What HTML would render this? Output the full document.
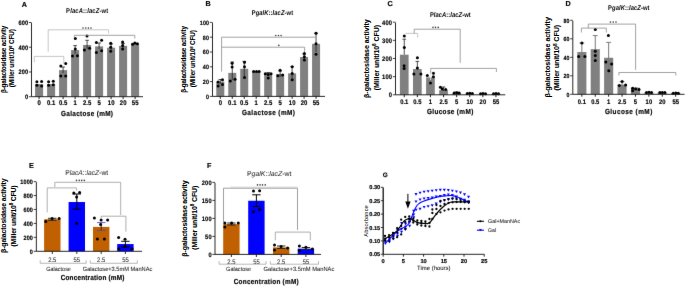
<!DOCTYPE html><html><head><meta charset="utf-8"><style>html,body{margin:0;padding:0;background:#fff;}body{position:relative;width:685px;height:286px;overflow:hidden;}svg{display:block;}svg.ov{position:absolute;left:0;top:0;}</style></head><body>
<svg xmlns="http://www.w3.org/2000/svg" width="685" height="286" viewBox="0 0 685 286" font-family='"Liberation Sans", sans-serif' text-rendering="geometricPrecision">
<defs><filter id="bl" color-interpolation-filters="sRGB" x="0" y="0" width="685" height="286" filterUnits="userSpaceOnUse"><feConvolveMatrix order="3" kernelMatrix="0.0036 0.0528 0.0036 0.0528 0.7744 0.0528 0.0036 0.0528 0.0036" edgeMode="duplicate"/></filter></defs>
<g filter="url(#bl)">
<rect width="685" height="286" fill="#fff"/>
<text x="0" y="0" transform="translate(24.30 6.60)" font-size="7.2" text-anchor="middle" font-weight="bold" fill="#000" stroke="#000" stroke-width="0.17">A</text>
<text x="0" y="0" transform="translate(87.10 12.60) scale(0.8600 1)" font-size="6.8" text-anchor="middle" font-weight="bold" textLength="48.84" lengthAdjust="spacing" fill="#000">P<tspan font-style="italic">lacA</tspan>::<tspan font-style="italic">lacZ</tspan>-wt</text>
<rect x="35.10" y="84.09" width="8.00" height="12.61" fill="#808080"/>
<rect x="47.10" y="84.09" width="8.00" height="12.61" fill="#808080"/>
<rect x="59.10" y="70.11" width="8.00" height="26.59" fill="#808080"/>
<rect x="71.10" y="50.08" width="8.00" height="46.62" fill="#808080"/>
<rect x="83.10" y="45.01" width="8.00" height="51.69" fill="#808080"/>
<rect x="95.10" y="46.37" width="8.00" height="50.33" fill="#808080"/>
<rect x="107.10" y="47.73" width="8.00" height="48.97" fill="#808080"/>
<rect x="119.10" y="45.87" width="8.00" height="50.83" fill="#808080"/>
<rect x="131.10" y="43.52" width="8.00" height="53.18" fill="#808080"/>
<line x1="63.10" y1="67.00" x2="63.10" y2="73.00" stroke="#222" stroke-width="0.8"/>
<line x1="61.30" y1="67.00" x2="64.90" y2="67.00" stroke="#222" stroke-width="0.8"/>
<line x1="75.10" y1="45.60" x2="75.10" y2="54.00" stroke="#222" stroke-width="0.8"/>
<line x1="73.30" y1="45.60" x2="76.90" y2="45.60" stroke="#222" stroke-width="0.8"/>
<line x1="87.10" y1="40.30" x2="87.10" y2="49.00" stroke="#222" stroke-width="0.8"/>
<line x1="85.30" y1="40.30" x2="88.90" y2="40.30" stroke="#222" stroke-width="0.8"/>
<line x1="99.10" y1="43.00" x2="99.10" y2="49.00" stroke="#222" stroke-width="0.8"/>
<line x1="97.30" y1="43.00" x2="100.90" y2="43.00" stroke="#222" stroke-width="0.8"/>
<line x1="111.10" y1="44.00" x2="111.10" y2="50.00" stroke="#222" stroke-width="0.8"/>
<line x1="109.30" y1="44.00" x2="112.90" y2="44.00" stroke="#222" stroke-width="0.8"/>
<line x1="123.10" y1="43.50" x2="123.10" y2="48.00" stroke="#222" stroke-width="0.8"/>
<line x1="121.30" y1="43.50" x2="124.90" y2="43.50" stroke="#222" stroke-width="0.8"/>
<circle cx="36.90" cy="81.80" r="1.5" fill="#000"/>
<circle cx="41.60" cy="81.50" r="1.5" fill="#000"/>
<circle cx="36.90" cy="85.30" r="1.5" fill="#000"/>
<circle cx="41.60" cy="85.90" r="1.5" fill="#000"/>
<circle cx="48.60" cy="81.80" r="1.5" fill="#000"/>
<circle cx="53.30" cy="81.30" r="1.5" fill="#000"/>
<circle cx="48.60" cy="85.30" r="1.5" fill="#000"/>
<circle cx="53.30" cy="84.80" r="1.5" fill="#000"/>
<circle cx="60.80" cy="66.10" r="1.5" fill="#000"/>
<circle cx="65.70" cy="63.50" r="1.5" fill="#000"/>
<circle cx="60.80" cy="76.10" r="1.5" fill="#000"/>
<circle cx="65.70" cy="76.10" r="1.5" fill="#000"/>
<circle cx="75.30" cy="38.60" r="1.5" fill="#000"/>
<circle cx="72.50" cy="56.00" r="1.5" fill="#000"/>
<circle cx="77.40" cy="55.70" r="1.5" fill="#000"/>
<circle cx="75.30" cy="49.00" r="1.5" fill="#000"/>
<circle cx="87.00" cy="36.00" r="1.5" fill="#000"/>
<circle cx="84.40" cy="50.00" r="1.5" fill="#000"/>
<circle cx="89.60" cy="48.20" r="1.5" fill="#000"/>
<circle cx="96.40" cy="42.60" r="1.5" fill="#000"/>
<circle cx="101.60" cy="40.30" r="1.5" fill="#000"/>
<circle cx="96.40" cy="52.60" r="1.5" fill="#000"/>
<circle cx="101.60" cy="50.80" r="1.5" fill="#000"/>
<circle cx="110.70" cy="43.30" r="1.5" fill="#000"/>
<circle cx="110.70" cy="47.30" r="1.5" fill="#000"/>
<circle cx="110.70" cy="51.30" r="1.5" fill="#000"/>
<circle cx="122.60" cy="42.10" r="1.5" fill="#000"/>
<circle cx="122.60" cy="45.60" r="1.5" fill="#000"/>
<circle cx="122.60" cy="49.10" r="1.5" fill="#000"/>
<circle cx="132.60" cy="44.30" r="1.5" fill="#000"/>
<circle cx="134.80" cy="43.00" r="1.5" fill="#000"/>
<circle cx="137.30" cy="43.80" r="1.5" fill="#000"/>
<line x1="31.50" y1="22.95" x2="31.50" y2="96.70" stroke="#111" stroke-width="0.9"/>
<line x1="28.90" y1="96.70" x2="31.50" y2="96.70" stroke="#111" stroke-width="0.8"/>
<text x="0" y="0" transform="translate(28.10 99.15) scale(0.8800 1)" font-size="6.38" text-anchor="end" font-weight="bold" textLength="3.66" lengthAdjust="spacing" fill="#000" stroke="#000" stroke-width="0.17">0</text>
<line x1="28.90" y1="71.97" x2="31.50" y2="71.97" stroke="#111" stroke-width="0.8"/>
<text x="0" y="0" transform="translate(28.10 74.41) scale(0.8800 1)" font-size="6.38" text-anchor="end" font-weight="bold" textLength="10.99" lengthAdjust="spacing" fill="#000" stroke="#000" stroke-width="0.17">200</text>
<line x1="28.90" y1="47.23" x2="31.50" y2="47.23" stroke="#111" stroke-width="0.8"/>
<text x="0" y="0" transform="translate(28.10 49.68) scale(0.8800 1)" font-size="6.38" text-anchor="end" font-weight="bold" textLength="10.99" lengthAdjust="spacing" fill="#000" stroke="#000" stroke-width="0.17">400</text>
<line x1="28.90" y1="22.50" x2="31.50" y2="22.50" stroke="#111" stroke-width="0.8"/>
<text x="0" y="0" transform="translate(28.10 24.95) scale(0.8800 1)" font-size="6.38" text-anchor="end" font-weight="bold" textLength="10.99" lengthAdjust="spacing" fill="#000" stroke="#000" stroke-width="0.17">600</text>
<line x1="31.50" y1="96.70" x2="143.00" y2="96.70" stroke="#111" stroke-width="0.9"/>
<line x1="39.10" y1="96.70" x2="39.10" y2="99.10" stroke="#111" stroke-width="0.95"/>
<text x="0" y="0" transform="translate(39.10 105.20) scale(0.8800 1)" font-size="6.72" text-anchor="middle" font-weight="bold" textLength="3.80" lengthAdjust="spacing" fill="#000" stroke="#000" stroke-width="0.17">0</text>
<line x1="51.10" y1="96.70" x2="51.10" y2="99.10" stroke="#111" stroke-width="0.95"/>
<text x="0" y="0" transform="translate(51.10 105.20) scale(0.8800 1)" font-size="6.72" text-anchor="middle" font-weight="bold" textLength="9.48" lengthAdjust="spacing" fill="#000" stroke="#000" stroke-width="0.17">0.1</text>
<line x1="63.10" y1="96.70" x2="63.10" y2="99.10" stroke="#111" stroke-width="0.95"/>
<text x="0" y="0" transform="translate(63.10 105.20) scale(0.8800 1)" font-size="6.72" text-anchor="middle" font-weight="bold" textLength="9.48" lengthAdjust="spacing" fill="#000" stroke="#000" stroke-width="0.17">0.5</text>
<line x1="75.10" y1="96.70" x2="75.10" y2="99.10" stroke="#111" stroke-width="0.95"/>
<text x="0" y="0" transform="translate(75.10 105.20) scale(0.8800 1)" font-size="6.72" text-anchor="middle" font-weight="bold" textLength="3.80" lengthAdjust="spacing" fill="#000" stroke="#000" stroke-width="0.17">1</text>
<line x1="87.10" y1="96.70" x2="87.10" y2="99.10" stroke="#111" stroke-width="0.95"/>
<text x="0" y="0" transform="translate(87.10 105.20) scale(0.8800 1)" font-size="6.72" text-anchor="middle" font-weight="bold" textLength="9.48" lengthAdjust="spacing" fill="#000" stroke="#000" stroke-width="0.17">2.5</text>
<line x1="99.10" y1="96.70" x2="99.10" y2="99.10" stroke="#111" stroke-width="0.95"/>
<text x="0" y="0" transform="translate(99.10 105.20) scale(0.8800 1)" font-size="6.72" text-anchor="middle" font-weight="bold" textLength="3.80" lengthAdjust="spacing" fill="#000" stroke="#000" stroke-width="0.17">5</text>
<line x1="111.10" y1="96.70" x2="111.10" y2="99.10" stroke="#111" stroke-width="0.95"/>
<text x="0" y="0" transform="translate(111.10 105.20) scale(0.8800 1)" font-size="6.72" text-anchor="middle" font-weight="bold" textLength="7.58" lengthAdjust="spacing" fill="#000" stroke="#000" stroke-width="0.17">10</text>
<line x1="123.10" y1="96.70" x2="123.10" y2="99.10" stroke="#111" stroke-width="0.95"/>
<text x="0" y="0" transform="translate(123.10 105.20) scale(0.8800 1)" font-size="6.72" text-anchor="middle" font-weight="bold" textLength="7.58" lengthAdjust="spacing" fill="#000" stroke="#000" stroke-width="0.17">20</text>
<line x1="135.10" y1="96.70" x2="135.10" y2="99.10" stroke="#111" stroke-width="0.95"/>
<text x="0" y="0" transform="translate(135.10 105.20) scale(0.8800 1)" font-size="6.72" text-anchor="middle" font-weight="bold" textLength="7.58" lengthAdjust="spacing" fill="#000" stroke="#000" stroke-width="0.17">55</text>
<text x="0" y="0" transform="translate(87.00 115.50) scale(0.8800 1)" font-size="7.3" text-anchor="middle" font-weight="bold" textLength="59.09" lengthAdjust="spacing" fill="#000" stroke="#000" stroke-width="0.17">Galactose (mM)</text>
<polyline points="34.30,62.20 34.30,56.40 63.80,56.40 63.80,64.30" stroke="#b8b8b8" stroke-width="0.8" fill="none"/>
<polyline points="48.20,51.70 48.20,29.80 108.60,29.80 108.60,33.30" stroke="#b8b8b8" stroke-width="0.8" fill="none"/>
<polyline points="74.30,36.80 74.30,35.30 134.80,35.30 134.80,38.60" stroke="#8c8c8c" stroke-width="0.8" fill="none"/>
<ellipse cx="83.00" cy="28.10" rx="0.78" ry="0.82" fill="#3a3a3a"/>
<ellipse cx="85.80" cy="28.10" rx="0.78" ry="0.82" fill="#3a3a3a"/>
<ellipse cx="88.40" cy="28.10" rx="0.78" ry="0.82" fill="#3a3a3a"/>
<ellipse cx="91.00" cy="28.10" rx="0.78" ry="0.82" fill="#3a3a3a"/>
<text x="0" y="0" transform="translate(208.20 6.20)" font-size="7.2" text-anchor="middle" font-weight="bold" fill="#000" stroke="#000" stroke-width="0.17">B</text>
<text x="0" y="0" transform="translate(272.40 14.60) scale(0.8600 1)" font-size="6.8" text-anchor="middle" font-weight="bold" textLength="48.26" lengthAdjust="spacing" fill="#000">P<tspan font-style="italic">galK</tspan>::<tspan font-style="italic">lacZ</tspan>-wt</text>
<rect x="216.30" y="81.60" width="8.00" height="14.80" fill="#808080"/>
<rect x="228.27" y="72.87" width="8.00" height="23.53" fill="#808080"/>
<rect x="240.24" y="68.80" width="8.00" height="27.60" fill="#808080"/>
<rect x="252.21" y="71.09" width="8.00" height="25.31" fill="#808080"/>
<rect x="264.18" y="73.16" width="8.00" height="23.24" fill="#808080"/>
<rect x="276.15" y="74.13" width="8.00" height="22.27" fill="#808080"/>
<rect x="288.12" y="73.39" width="8.00" height="23.01" fill="#808080"/>
<rect x="300.09" y="57.03" width="8.00" height="39.37" fill="#808080"/>
<rect x="312.06" y="43.86" width="8.00" height="52.54" fill="#808080"/>
<line x1="220.30" y1="79.50" x2="220.30" y2="84.00" stroke="#222" stroke-width="0.8"/>
<line x1="218.50" y1="79.50" x2="222.10" y2="79.50" stroke="#222" stroke-width="0.8"/>
<line x1="232.27" y1="62.00" x2="232.27" y2="80.00" stroke="#222" stroke-width="0.8"/>
<line x1="230.47" y1="62.00" x2="234.07" y2="62.00" stroke="#222" stroke-width="0.8"/>
<line x1="244.24" y1="61.40" x2="244.24" y2="77.00" stroke="#222" stroke-width="0.8"/>
<line x1="242.44" y1="61.40" x2="246.04" y2="61.40" stroke="#222" stroke-width="0.8"/>
<line x1="268.18" y1="72.50" x2="268.18" y2="75.50" stroke="#222" stroke-width="0.8"/>
<line x1="266.38" y1="72.50" x2="269.98" y2="72.50" stroke="#222" stroke-width="0.8"/>
<line x1="280.15" y1="71.00" x2="280.15" y2="77.00" stroke="#222" stroke-width="0.8"/>
<line x1="278.35" y1="71.00" x2="281.95" y2="71.00" stroke="#222" stroke-width="0.8"/>
<line x1="292.12" y1="66.60" x2="292.12" y2="78.00" stroke="#222" stroke-width="0.8"/>
<line x1="290.32" y1="66.60" x2="293.92" y2="66.60" stroke="#222" stroke-width="0.8"/>
<line x1="304.09" y1="54.00" x2="304.09" y2="59.00" stroke="#222" stroke-width="0.8"/>
<line x1="302.29" y1="54.00" x2="305.89" y2="54.00" stroke="#222" stroke-width="0.8"/>
<line x1="316.06" y1="33.20" x2="316.06" y2="52.00" stroke="#222" stroke-width="0.8"/>
<line x1="314.26" y1="33.20" x2="317.86" y2="33.20" stroke="#222" stroke-width="0.8"/>
<circle cx="218.10" cy="81.90" r="1.5" fill="#000"/>
<circle cx="222.50" cy="79.80" r="1.5" fill="#000"/>
<circle cx="218.10" cy="86.00" r="1.5" fill="#000"/>
<circle cx="222.50" cy="84.60" r="1.5" fill="#000"/>
<circle cx="232.10" cy="63.20" r="1.5" fill="#000"/>
<circle cx="232.10" cy="67.00" r="1.5" fill="#000"/>
<circle cx="230.30" cy="81.10" r="1.5" fill="#000"/>
<circle cx="235.00" cy="79.30" r="1.5" fill="#000"/>
<circle cx="244.50" cy="62.30" r="1.5" fill="#000"/>
<circle cx="244.50" cy="66.70" r="1.5" fill="#000"/>
<circle cx="244.50" cy="77.50" r="1.5" fill="#000"/>
<circle cx="253.60" cy="71.60" r="1.5" fill="#000"/>
<circle cx="256.50" cy="71.60" r="1.5" fill="#000"/>
<circle cx="259.10" cy="71.60" r="1.5" fill="#000"/>
<circle cx="265.30" cy="73.70" r="1.5" fill="#000"/>
<circle cx="268.20" cy="74.60" r="1.5" fill="#000"/>
<circle cx="271.00" cy="73.70" r="1.5" fill="#000"/>
<circle cx="268.20" cy="78.10" r="1.5" fill="#000"/>
<circle cx="280.10" cy="70.20" r="1.5" fill="#000"/>
<circle cx="277.90" cy="75.80" r="1.5" fill="#000"/>
<circle cx="282.60" cy="75.10" r="1.5" fill="#000"/>
<circle cx="292.20" cy="66.70" r="1.5" fill="#000"/>
<circle cx="292.20" cy="73.40" r="1.5" fill="#000"/>
<circle cx="292.20" cy="79.80" r="1.5" fill="#000"/>
<circle cx="304.40" cy="53.50" r="1.5" fill="#000"/>
<circle cx="304.40" cy="56.80" r="1.5" fill="#000"/>
<circle cx="304.40" cy="60.00" r="1.5" fill="#000"/>
<circle cx="316.00" cy="33.20" r="1.5" fill="#000"/>
<circle cx="316.00" cy="43.70" r="1.5" fill="#000"/>
<circle cx="316.00" cy="54.20" r="1.5" fill="#000"/>
<line x1="212.50" y1="22.85" x2="212.50" y2="96.40" stroke="#111" stroke-width="0.9"/>
<line x1="209.90" y1="96.40" x2="212.50" y2="96.40" stroke="#111" stroke-width="0.8"/>
<text x="0" y="0" transform="translate(209.10 98.77) scale(0.8800 1)" font-size="6.16" text-anchor="end" font-weight="bold" textLength="3.53" lengthAdjust="spacing" fill="#000" stroke="#000" stroke-width="0.17">0</text>
<line x1="209.90" y1="81.60" x2="212.50" y2="81.60" stroke="#111" stroke-width="0.8"/>
<text x="0" y="0" transform="translate(209.10 83.97) scale(0.8800 1)" font-size="6.16" text-anchor="end" font-weight="bold" textLength="7.08" lengthAdjust="spacing" fill="#000" stroke="#000" stroke-width="0.17">20</text>
<line x1="209.90" y1="66.80" x2="212.50" y2="66.80" stroke="#111" stroke-width="0.8"/>
<text x="0" y="0" transform="translate(209.10 69.17) scale(0.8800 1)" font-size="6.16" text-anchor="end" font-weight="bold" textLength="7.08" lengthAdjust="spacing" fill="#000" stroke="#000" stroke-width="0.17">40</text>
<line x1="209.90" y1="52.00" x2="212.50" y2="52.00" stroke="#111" stroke-width="0.8"/>
<text x="0" y="0" transform="translate(209.10 54.37) scale(0.8800 1)" font-size="6.16" text-anchor="end" font-weight="bold" textLength="7.08" lengthAdjust="spacing" fill="#000" stroke="#000" stroke-width="0.17">60</text>
<line x1="209.90" y1="37.20" x2="212.50" y2="37.20" stroke="#111" stroke-width="0.8"/>
<text x="0" y="0" transform="translate(209.10 39.57) scale(0.8800 1)" font-size="6.16" text-anchor="end" font-weight="bold" textLength="7.08" lengthAdjust="spacing" fill="#000" stroke="#000" stroke-width="0.17">80</text>
<line x1="209.90" y1="22.40" x2="212.50" y2="22.40" stroke="#111" stroke-width="0.8"/>
<text x="0" y="0" transform="translate(209.10 24.77) scale(0.8800 1)" font-size="6.16" text-anchor="end" font-weight="bold" textLength="10.61" lengthAdjust="spacing" fill="#000" stroke="#000" stroke-width="0.17">100</text>
<line x1="212.50" y1="96.40" x2="325.00" y2="96.40" stroke="#111" stroke-width="0.9"/>
<line x1="220.30" y1="96.40" x2="220.30" y2="98.80" stroke="#111" stroke-width="0.95"/>
<text x="0" y="0" transform="translate(220.30 105.20) scale(0.8800 1)" font-size="6.72" text-anchor="middle" font-weight="bold" textLength="3.80" lengthAdjust="spacing" fill="#000" stroke="#000" stroke-width="0.17">0</text>
<line x1="232.27" y1="96.40" x2="232.27" y2="98.80" stroke="#111" stroke-width="0.95"/>
<text x="0" y="0" transform="translate(232.27 105.20) scale(0.8800 1)" font-size="6.72" text-anchor="middle" font-weight="bold" textLength="9.48" lengthAdjust="spacing" fill="#000" stroke="#000" stroke-width="0.17">0.1</text>
<line x1="244.24" y1="96.40" x2="244.24" y2="98.80" stroke="#111" stroke-width="0.95"/>
<text x="0" y="0" transform="translate(244.24 105.20) scale(0.8800 1)" font-size="6.72" text-anchor="middle" font-weight="bold" textLength="9.48" lengthAdjust="spacing" fill="#000" stroke="#000" stroke-width="0.17">0.5</text>
<line x1="256.21" y1="96.40" x2="256.21" y2="98.80" stroke="#111" stroke-width="0.95"/>
<text x="0" y="0" transform="translate(256.21 105.20) scale(0.8800 1)" font-size="6.72" text-anchor="middle" font-weight="bold" textLength="3.80" lengthAdjust="spacing" fill="#000" stroke="#000" stroke-width="0.17">1</text>
<line x1="268.18" y1="96.40" x2="268.18" y2="98.80" stroke="#111" stroke-width="0.95"/>
<text x="0" y="0" transform="translate(268.18 105.20) scale(0.8800 1)" font-size="6.72" text-anchor="middle" font-weight="bold" textLength="9.48" lengthAdjust="spacing" fill="#000" stroke="#000" stroke-width="0.17">2.5</text>
<line x1="280.15" y1="96.40" x2="280.15" y2="98.80" stroke="#111" stroke-width="0.95"/>
<text x="0" y="0" transform="translate(280.15 105.20) scale(0.8800 1)" font-size="6.72" text-anchor="middle" font-weight="bold" textLength="3.80" lengthAdjust="spacing" fill="#000" stroke="#000" stroke-width="0.17">5</text>
<line x1="292.12" y1="96.40" x2="292.12" y2="98.80" stroke="#111" stroke-width="0.95"/>
<text x="0" y="0" transform="translate(292.12 105.20) scale(0.8800 1)" font-size="6.72" text-anchor="middle" font-weight="bold" textLength="7.58" lengthAdjust="spacing" fill="#000" stroke="#000" stroke-width="0.17">10</text>
<line x1="304.09" y1="96.40" x2="304.09" y2="98.80" stroke="#111" stroke-width="0.95"/>
<text x="0" y="0" transform="translate(304.09 105.20) scale(0.8800 1)" font-size="6.72" text-anchor="middle" font-weight="bold" textLength="7.58" lengthAdjust="spacing" fill="#000" stroke="#000" stroke-width="0.17">20</text>
<line x1="316.06" y1="96.40" x2="316.06" y2="98.80" stroke="#111" stroke-width="0.95"/>
<text x="0" y="0" transform="translate(316.06 105.20) scale(0.8800 1)" font-size="6.72" text-anchor="middle" font-weight="bold" textLength="7.58" lengthAdjust="spacing" fill="#000" stroke="#000" stroke-width="0.17">55</text>
<text x="0" y="0" transform="translate(268.40 115.30) scale(0.8800 1)" font-size="7.3" text-anchor="middle" font-weight="bold" textLength="60.23" lengthAdjust="spacing" fill="#000" stroke="#000" stroke-width="0.17">Galactose (mM)</text>
<polyline points="221.60,71.60 221.60,37.20 315.80,37.20" stroke="#8c8c8c" stroke-width="0.8" fill="none"/>
<polyline points="221.60,47.20 304.60,47.20 304.60,52.00" stroke="#8c8c8c" stroke-width="0.8" fill="none"/>
<ellipse cx="275.70" cy="35.50" rx="0.78" ry="0.82" fill="#3a3a3a"/>
<ellipse cx="278.50" cy="35.50" rx="0.78" ry="0.82" fill="#3a3a3a"/>
<ellipse cx="281.10" cy="35.50" rx="0.78" ry="0.82" fill="#3a3a3a"/>
<ellipse cx="278.80" cy="45.40" rx="0.78" ry="0.82" fill="#3a3a3a"/>
<text x="0" y="0" transform="translate(390.00 6.00)" font-size="7.2" text-anchor="middle" font-weight="bold" fill="#000" stroke="#000" stroke-width="0.17">C</text>
<text x="0" y="0" transform="translate(450.30 16.60) scale(0.8600 1)" font-size="6.8" text-anchor="middle" font-weight="bold" textLength="47.44" lengthAdjust="spacing" fill="#000">P<tspan font-style="italic">lacA</tspan>::<tspan font-style="italic">lacZ</tspan>-wt</text>
<rect x="399.90" y="54.69" width="8.70" height="40.11" fill="#808080"/>
<rect x="413.00" y="69.03" width="8.70" height="25.77" fill="#808080"/>
<rect x="426.10" y="77.38" width="8.70" height="17.42" fill="#808080"/>
<rect x="439.20" y="90.08" width="8.70" height="4.72" fill="#808080"/>
<rect x="452.30" y="93.17" width="8.70" height="1.63" fill="#808080"/>
<rect x="465.40" y="93.89" width="8.70" height="0.91" fill="#808080"/>
<rect x="478.50" y="94.26" width="8.70" height="0.54" fill="#808080"/>
<rect x="491.60" y="94.26" width="8.70" height="0.54" fill="#808080"/>
<line x1="404.25" y1="39.20" x2="404.25" y2="54.60" stroke="#222" stroke-width="0.8"/>
<line x1="402.45" y1="39.20" x2="406.05" y2="39.20" stroke="#222" stroke-width="0.8"/>
<line x1="417.35" y1="61.40" x2="417.35" y2="69.00" stroke="#222" stroke-width="0.8"/>
<line x1="415.55" y1="61.40" x2="419.15" y2="61.40" stroke="#222" stroke-width="0.8"/>
<line x1="443.55" y1="87.00" x2="443.55" y2="91.00" stroke="#222" stroke-width="0.8"/>
<line x1="441.75" y1="87.00" x2="445.35" y2="87.00" stroke="#222" stroke-width="0.8"/>
<line x1="456.65" y1="92.00" x2="456.65" y2="93.50" stroke="#222" stroke-width="0.8"/>
<line x1="454.85" y1="92.00" x2="458.45" y2="92.00" stroke="#222" stroke-width="0.8"/>
<circle cx="404.30" cy="36.10" r="1.5" fill="#000"/>
<circle cx="404.30" cy="47.40" r="1.5" fill="#000"/>
<circle cx="404.10" cy="65.80" r="1.5" fill="#000"/>
<circle cx="404.10" cy="68.60" r="1.5" fill="#000"/>
<circle cx="417.40" cy="57.80" r="1.5" fill="#000"/>
<circle cx="413.90" cy="73.90" r="1.5" fill="#000"/>
<circle cx="417.40" cy="68.10" r="1.5" fill="#000"/>
<circle cx="420.90" cy="73.90" r="1.5" fill="#000"/>
<circle cx="427.30" cy="75.60" r="1.5" fill="#000"/>
<circle cx="433.40" cy="73.30" r="1.5" fill="#000"/>
<circle cx="433.40" cy="76.80" r="1.5" fill="#000"/>
<circle cx="430.50" cy="83.00" r="1.5" fill="#000"/>
<circle cx="440.40" cy="87.30" r="1.5" fill="#000"/>
<circle cx="442.20" cy="89.10" r="1.5" fill="#000"/>
<circle cx="445.70" cy="89.40" r="1.5" fill="#000"/>
<circle cx="454.20" cy="92.90" r="1.5" fill="#000"/>
<circle cx="456.70" cy="92.70" r="1.5" fill="#000"/>
<circle cx="459.20" cy="92.90" r="1.5" fill="#000"/>
<circle cx="467.30" cy="93.60" r="1.5" fill="#000"/>
<circle cx="469.80" cy="93.20" r="1.5" fill="#000"/>
<circle cx="472.30" cy="93.40" r="1.5" fill="#000"/>
<circle cx="480.60" cy="93.80" r="1.5" fill="#000"/>
<circle cx="483.00" cy="93.60" r="1.5" fill="#000"/>
<circle cx="485.50" cy="93.80" r="1.5" fill="#000"/>
<circle cx="493.50" cy="93.80" r="1.5" fill="#000"/>
<circle cx="496.00" cy="93.60" r="1.5" fill="#000"/>
<circle cx="498.50" cy="93.80" r="1.5" fill="#000"/>
<line x1="395.50" y1="22.65" x2="395.50" y2="94.80" stroke="#111" stroke-width="0.9"/>
<line x1="392.90" y1="94.80" x2="395.50" y2="94.80" stroke="#111" stroke-width="0.8"/>
<text x="0" y="0" transform="translate(392.10 97.33) scale(0.8800 1)" font-size="6.6" text-anchor="end" font-weight="bold" textLength="3.80" lengthAdjust="spacing" fill="#000" stroke="#000" stroke-width="0.17">0</text>
<line x1="392.90" y1="76.65" x2="395.50" y2="76.65" stroke="#111" stroke-width="0.8"/>
<text x="0" y="0" transform="translate(392.10 79.18) scale(0.8800 1)" font-size="6.6" text-anchor="end" font-weight="bold" textLength="11.38" lengthAdjust="spacing" fill="#000" stroke="#000" stroke-width="0.17">100</text>
<line x1="392.90" y1="58.50" x2="395.50" y2="58.50" stroke="#111" stroke-width="0.8"/>
<text x="0" y="0" transform="translate(392.10 61.03) scale(0.8800 1)" font-size="6.6" text-anchor="end" font-weight="bold" textLength="11.38" lengthAdjust="spacing" fill="#000" stroke="#000" stroke-width="0.17">200</text>
<line x1="392.90" y1="40.35" x2="395.50" y2="40.35" stroke="#111" stroke-width="0.8"/>
<text x="0" y="0" transform="translate(392.10 42.88) scale(0.8800 1)" font-size="6.6" text-anchor="end" font-weight="bold" textLength="11.38" lengthAdjust="spacing" fill="#000" stroke="#000" stroke-width="0.17">300</text>
<line x1="392.90" y1="22.20" x2="395.50" y2="22.20" stroke="#111" stroke-width="0.8"/>
<text x="0" y="0" transform="translate(392.10 24.73) scale(0.8800 1)" font-size="6.6" text-anchor="end" font-weight="bold" textLength="11.38" lengthAdjust="spacing" fill="#000" stroke="#000" stroke-width="0.17">400</text>
<line x1="395.50" y1="94.80" x2="505.30" y2="94.80" stroke="#111" stroke-width="0.9"/>
<line x1="404.25" y1="94.80" x2="404.25" y2="97.20" stroke="#111" stroke-width="0.95"/>
<text x="0" y="0" transform="translate(404.25 104.30) scale(0.8800 1)" font-size="6.61" text-anchor="middle" font-weight="bold" textLength="9.32" lengthAdjust="spacing" fill="#000" stroke="#000" stroke-width="0.17">0.1</text>
<line x1="417.35" y1="94.80" x2="417.35" y2="97.20" stroke="#111" stroke-width="0.95"/>
<text x="0" y="0" transform="translate(417.35 104.30) scale(0.8800 1)" font-size="6.61" text-anchor="middle" font-weight="bold" textLength="9.32" lengthAdjust="spacing" fill="#000" stroke="#000" stroke-width="0.17">0.5</text>
<line x1="430.45" y1="94.80" x2="430.45" y2="97.20" stroke="#111" stroke-width="0.95"/>
<text x="0" y="0" transform="translate(430.45 104.30) scale(0.8800 1)" font-size="6.61" text-anchor="middle" font-weight="bold" textLength="3.73" lengthAdjust="spacing" fill="#000" stroke="#000" stroke-width="0.17">1</text>
<line x1="443.55" y1="94.80" x2="443.55" y2="97.20" stroke="#111" stroke-width="0.95"/>
<text x="0" y="0" transform="translate(443.55 104.30) scale(0.8800 1)" font-size="6.61" text-anchor="middle" font-weight="bold" textLength="9.32" lengthAdjust="spacing" fill="#000" stroke="#000" stroke-width="0.17">2.5</text>
<line x1="456.65" y1="94.80" x2="456.65" y2="97.20" stroke="#111" stroke-width="0.95"/>
<text x="0" y="0" transform="translate(456.65 104.30) scale(0.8800 1)" font-size="6.61" text-anchor="middle" font-weight="bold" textLength="3.73" lengthAdjust="spacing" fill="#000" stroke="#000" stroke-width="0.17">5</text>
<line x1="469.75" y1="94.80" x2="469.75" y2="97.20" stroke="#111" stroke-width="0.95"/>
<text x="0" y="0" transform="translate(469.75 104.30) scale(0.8800 1)" font-size="6.61" text-anchor="middle" font-weight="bold" textLength="7.45" lengthAdjust="spacing" fill="#000" stroke="#000" stroke-width="0.17">10</text>
<line x1="482.85" y1="94.80" x2="482.85" y2="97.20" stroke="#111" stroke-width="0.95"/>
<text x="0" y="0" transform="translate(482.85 104.30) scale(0.8800 1)" font-size="6.61" text-anchor="middle" font-weight="bold" textLength="7.45" lengthAdjust="spacing" fill="#000" stroke="#000" stroke-width="0.17">20</text>
<line x1="495.95" y1="94.80" x2="495.95" y2="97.20" stroke="#111" stroke-width="0.95"/>
<text x="0" y="0" transform="translate(495.95 104.30) scale(0.8800 1)" font-size="6.61" text-anchor="middle" font-weight="bold" textLength="7.45" lengthAdjust="spacing" fill="#000" stroke="#000" stroke-width="0.17">55</text>
<text x="0" y="0" transform="translate(450.10 113.60) scale(0.8800 1)" font-size="7.3" text-anchor="middle" font-weight="bold" textLength="52.73" lengthAdjust="spacing" fill="#000" stroke="#000" stroke-width="0.17">Glucose (mM)</text>
<line x1="430.50" y1="73.30" x2="430.50" y2="80.00" stroke="#e8e8e8" stroke-width="0.8"/>
<line x1="428.70" y1="73.30" x2="432.30" y2="73.30" stroke="#f4f4f4" stroke-width="0.8"/>
<polyline points="405.50,33.40 417.70,33.40 417.70,37.50" stroke="#b8b8b8" stroke-width="0.8" fill="none"/>
<polyline points="414.20,33.40 414.20,29.20 460.20,29.20 460.20,62.80" stroke="#8c8c8c" stroke-width="0.8" fill="none"/>
<polyline points="430.70,73.30 430.70,68.40 496.40,68.40 496.40,72.00" stroke="#8c8c8c" stroke-width="0.8" fill="none"/>
<ellipse cx="433.00" cy="27.40" rx="0.78" ry="0.82" fill="#3a3a3a"/>
<ellipse cx="435.50" cy="27.40" rx="0.78" ry="0.82" fill="#3a3a3a"/>
<ellipse cx="438.20" cy="27.40" rx="0.78" ry="0.82" fill="#3a3a3a"/>
<text x="0" y="0" transform="translate(568.10 6.20)" font-size="7.2" text-anchor="middle" font-weight="bold" fill="#000" stroke="#000" stroke-width="0.17">D</text>
<text x="0" y="0" transform="translate(628.80 10.40) scale(0.8600 1)" font-size="6.8" text-anchor="middle" font-weight="bold" textLength="48.26" lengthAdjust="spacing" fill="#000">P<tspan font-style="italic">galK</tspan>::<tspan font-style="italic">lacZ</tspan>-wt</text>
<rect x="577.30" y="52.03" width="9.10" height="42.27" fill="#808080"/>
<rect x="590.70" y="49.16" width="9.10" height="45.14" fill="#808080"/>
<rect x="604.10" y="57.76" width="9.10" height="36.54" fill="#808080"/>
<rect x="617.50" y="84.68" width="9.10" height="9.62" fill="#808080"/>
<rect x="630.90" y="87.73" width="9.10" height="6.57" fill="#808080"/>
<rect x="644.30" y="92.45" width="9.10" height="1.85" fill="#808080"/>
<rect x="657.70" y="92.45" width="9.10" height="1.85" fill="#808080"/>
<rect x="671.10" y="92.91" width="9.10" height="1.39" fill="#808080"/>
<line x1="581.85" y1="43.00" x2="581.85" y2="56.00" stroke="#7a7a7a" stroke-width="1.0"/>
<line x1="579.45" y1="43.00" x2="584.25" y2="43.00" stroke="#7a7a7a" stroke-width="1.0"/>
<line x1="595.25" y1="35.60" x2="595.25" y2="60.00" stroke="#7a7a7a" stroke-width="1.0"/>
<line x1="592.85" y1="35.60" x2="597.65" y2="35.60" stroke="#7a7a7a" stroke-width="1.0"/>
<line x1="608.65" y1="42.40" x2="608.65" y2="70.00" stroke="#7a7a7a" stroke-width="1.0"/>
<line x1="606.25" y1="42.40" x2="611.05" y2="42.40" stroke="#7a7a7a" stroke-width="1.0"/>
<line x1="622.05" y1="81.60" x2="622.05" y2="86.00" stroke="#7a7a7a" stroke-width="1.0"/>
<line x1="619.65" y1="81.60" x2="624.45" y2="81.60" stroke="#7a7a7a" stroke-width="1.0"/>
<line x1="635.45" y1="88.00" x2="635.45" y2="90.00" stroke="#7a7a7a" stroke-width="1.0"/>
<line x1="633.05" y1="88.00" x2="637.85" y2="88.00" stroke="#7a7a7a" stroke-width="1.0"/>
<circle cx="581.90" cy="43.00" r="1.5" fill="#000"/>
<circle cx="578.70" cy="56.40" r="1.5" fill="#000"/>
<circle cx="584.90" cy="56.40" r="1.5" fill="#000"/>
<circle cx="595.30" cy="29.50" r="1.5" fill="#000"/>
<circle cx="595.30" cy="51.30" r="1.5" fill="#000"/>
<circle cx="595.30" cy="55.50" r="1.5" fill="#000"/>
<circle cx="595.30" cy="60.40" r="1.5" fill="#000"/>
<circle cx="608.40" cy="35.40" r="1.5" fill="#000"/>
<circle cx="605.80" cy="62.00" r="1.5" fill="#000"/>
<circle cx="611.60" cy="64.10" r="1.5" fill="#000"/>
<circle cx="608.80" cy="70.70" r="1.5" fill="#000"/>
<circle cx="622.10" cy="81.60" r="1.5" fill="#000"/>
<circle cx="619.30" cy="85.60" r="1.5" fill="#000"/>
<circle cx="625.60" cy="85.10" r="1.5" fill="#000"/>
<circle cx="632.60" cy="88.20" r="1.5" fill="#000"/>
<circle cx="635.60" cy="89.10" r="1.5" fill="#000"/>
<circle cx="639.00" cy="89.40" r="1.5" fill="#000"/>
<circle cx="632.60" cy="90.80" r="1.5" fill="#000"/>
<circle cx="646.50" cy="92.50" r="1.5" fill="#000"/>
<circle cx="649.00" cy="92.30" r="1.5" fill="#000"/>
<circle cx="651.50" cy="92.50" r="1.5" fill="#000"/>
<circle cx="659.90" cy="92.60" r="1.5" fill="#000"/>
<circle cx="662.30" cy="92.40" r="1.5" fill="#000"/>
<circle cx="664.80" cy="92.60" r="1.5" fill="#000"/>
<circle cx="673.30" cy="93.20" r="1.5" fill="#000"/>
<circle cx="675.80" cy="92.90" r="1.5" fill="#000"/>
<circle cx="678.30" cy="93.20" r="1.5" fill="#000"/>
<line x1="572.80" y1="20.75" x2="572.80" y2="94.30" stroke="#111" stroke-width="0.9"/>
<line x1="570.20" y1="94.30" x2="572.80" y2="94.30" stroke="#111" stroke-width="0.8"/>
<text x="0" y="0" transform="translate(569.40 96.59) scale(0.8800 1)" font-size="5.94" text-anchor="end" font-weight="bold" textLength="3.41" lengthAdjust="spacing" fill="#000" stroke="#000" stroke-width="0.17">0</text>
<line x1="570.20" y1="75.80" x2="572.80" y2="75.80" stroke="#111" stroke-width="0.8"/>
<text x="0" y="0" transform="translate(569.40 78.09) scale(0.8800 1)" font-size="5.94" text-anchor="end" font-weight="bold" textLength="6.82" lengthAdjust="spacing" fill="#000" stroke="#000" stroke-width="0.17">20</text>
<line x1="570.20" y1="57.30" x2="572.80" y2="57.30" stroke="#111" stroke-width="0.8"/>
<text x="0" y="0" transform="translate(569.40 59.59) scale(0.8800 1)" font-size="5.94" text-anchor="end" font-weight="bold" textLength="6.82" lengthAdjust="spacing" fill="#000" stroke="#000" stroke-width="0.17">40</text>
<line x1="570.20" y1="38.80" x2="572.80" y2="38.80" stroke="#111" stroke-width="0.8"/>
<text x="0" y="0" transform="translate(569.40 41.09) scale(0.8800 1)" font-size="5.94" text-anchor="end" font-weight="bold" textLength="6.82" lengthAdjust="spacing" fill="#000" stroke="#000" stroke-width="0.17">60</text>
<line x1="570.20" y1="20.30" x2="572.80" y2="20.30" stroke="#111" stroke-width="0.8"/>
<text x="0" y="0" transform="translate(569.40 22.59) scale(0.8800 1)" font-size="5.94" text-anchor="end" font-weight="bold" textLength="6.82" lengthAdjust="spacing" fill="#000" stroke="#000" stroke-width="0.17">80</text>
<line x1="572.80" y1="94.30" x2="684.50" y2="94.30" stroke="#111" stroke-width="0.9"/>
<line x1="581.85" y1="94.30" x2="581.85" y2="96.70" stroke="#111" stroke-width="0.95"/>
<text x="0" y="0" transform="translate(581.85 103.60) scale(0.8800 1)" font-size="6.61" text-anchor="middle" font-weight="bold" textLength="9.32" lengthAdjust="spacing" fill="#000" stroke="#000" stroke-width="0.17">0.1</text>
<line x1="595.25" y1="94.30" x2="595.25" y2="96.70" stroke="#111" stroke-width="0.95"/>
<text x="0" y="0" transform="translate(595.25 103.60) scale(0.8800 1)" font-size="6.61" text-anchor="middle" font-weight="bold" textLength="9.32" lengthAdjust="spacing" fill="#000" stroke="#000" stroke-width="0.17">0.5</text>
<line x1="608.65" y1="94.30" x2="608.65" y2="96.70" stroke="#111" stroke-width="0.95"/>
<text x="0" y="0" transform="translate(608.65 103.60) scale(0.8800 1)" font-size="6.61" text-anchor="middle" font-weight="bold" textLength="3.73" lengthAdjust="spacing" fill="#000" stroke="#000" stroke-width="0.17">1</text>
<line x1="622.05" y1="94.30" x2="622.05" y2="96.70" stroke="#111" stroke-width="0.95"/>
<text x="0" y="0" transform="translate(622.05 103.60) scale(0.8800 1)" font-size="6.61" text-anchor="middle" font-weight="bold" textLength="9.32" lengthAdjust="spacing" fill="#000" stroke="#000" stroke-width="0.17">2.5</text>
<line x1="635.45" y1="94.30" x2="635.45" y2="96.70" stroke="#111" stroke-width="0.95"/>
<text x="0" y="0" transform="translate(635.45 103.60) scale(0.8800 1)" font-size="6.61" text-anchor="middle" font-weight="bold" textLength="3.73" lengthAdjust="spacing" fill="#000" stroke="#000" stroke-width="0.17">5</text>
<line x1="648.85" y1="94.30" x2="648.85" y2="96.70" stroke="#111" stroke-width="0.95"/>
<text x="0" y="0" transform="translate(648.85 103.60) scale(0.8800 1)" font-size="6.61" text-anchor="middle" font-weight="bold" textLength="7.45" lengthAdjust="spacing" fill="#000" stroke="#000" stroke-width="0.17">10</text>
<line x1="662.25" y1="94.30" x2="662.25" y2="96.70" stroke="#111" stroke-width="0.95"/>
<text x="0" y="0" transform="translate(662.25 103.60) scale(0.8800 1)" font-size="6.61" text-anchor="middle" font-weight="bold" textLength="7.45" lengthAdjust="spacing" fill="#000" stroke="#000" stroke-width="0.17">20</text>
<line x1="675.65" y1="94.30" x2="675.65" y2="96.70" stroke="#111" stroke-width="0.95"/>
<text x="0" y="0" transform="translate(675.65 103.60) scale(0.8800 1)" font-size="6.61" text-anchor="middle" font-weight="bold" textLength="7.45" lengthAdjust="spacing" fill="#000" stroke="#000" stroke-width="0.17">55</text>
<text x="0" y="0" transform="translate(628.60 113.90) scale(0.8800 1)" font-size="7.3" text-anchor="middle" font-weight="bold" textLength="53.86" lengthAdjust="spacing" fill="#000" stroke="#000" stroke-width="0.17">Glucose (mM)</text>
<polyline points="581.40,32.50 581.40,28.10 606.30,28.10 606.30,32.50" stroke="#8c8c8c" stroke-width="0.8" fill="none"/>
<polyline points="588.30,28.10 588.30,24.10 635.60,24.10 635.60,69.90" stroke="#8c8c8c" stroke-width="0.8" fill="none"/>
<polyline points="618.90,75.50 618.90,72.50 675.80,72.50 675.80,75.50" stroke="#8c8c8c" stroke-width="0.8" fill="none"/>
<ellipse cx="610.40" cy="22.10" rx="0.78" ry="0.82" fill="#3a3a3a"/>
<ellipse cx="613.20" cy="22.10" rx="0.78" ry="0.82" fill="#3a3a3a"/>
<ellipse cx="616.00" cy="22.10" rx="0.78" ry="0.82" fill="#3a3a3a"/>
<text x="0" y="0" transform="translate(31.50 167.90)" font-size="7.2" text-anchor="middle" font-weight="bold" fill="#000" stroke="#000" stroke-width="0.17">E</text>
<text x="0" y="0" transform="translate(86.70 174.60)" font-size="7.0" text-anchor="middle" textLength="42.8" lengthAdjust="spacingAndGlyphs" fill="#333" stroke="#333" stroke-width="0.06">P<tspan font-style="italic">lacA</tspan>::<tspan font-style="italic">lacZ</tspan>-wt</text>
<rect x="44.10" y="219.24" width="16.40" height="32.06" fill="#c06000"/>
<rect x="68.60" y="202.02" width="16.40" height="49.28" fill="#0000ff"/>
<rect x="93.00" y="226.91" width="16.40" height="24.40" fill="#c06000"/>
<rect x="117.20" y="244.05" width="16.40" height="7.25" fill="#0000ff"/>
<line x1="52.30" y1="218.30" x2="52.30" y2="220.30" stroke="#222" stroke-width="1.0"/>
<line x1="48.10" y1="218.30" x2="56.50" y2="218.30" stroke="#222" stroke-width="1.0"/>
<line x1="48.10" y1="220.30" x2="56.50" y2="220.30" stroke="#222" stroke-width="1.0"/>
<line x1="76.80" y1="194.00" x2="76.80" y2="209.20" stroke="#000" stroke-width="1.0"/>
<line x1="72.60" y1="194.00" x2="81.00" y2="194.00" stroke="#000" stroke-width="1.0"/>
<line x1="72.60" y1="209.20" x2="81.00" y2="209.20" stroke="#000" stroke-width="1.0"/>
<line x1="101.20" y1="222.60" x2="101.20" y2="230.50" stroke="#3a2a20" stroke-width="1.0"/>
<line x1="97.00" y1="222.60" x2="105.40" y2="222.60" stroke="#6a5acd" stroke-width="1.0"/>
<line x1="97.00" y1="230.50" x2="105.40" y2="230.50" stroke="#6a4a7a" stroke-width="1.0"/>
<line x1="125.40" y1="241.30" x2="125.40" y2="247.00" stroke="#000" stroke-width="1.0"/>
<line x1="121.20" y1="241.30" x2="129.60" y2="241.30" stroke="#000" stroke-width="1.0"/>
<line x1="121.20" y1="247.00" x2="129.60" y2="247.00" stroke="#000" stroke-width="1.0"/>
<circle cx="45.80" cy="221.40" r="1.5" fill="#000"/>
<circle cx="52.10" cy="218.50" r="1.5" fill="#000"/>
<circle cx="59.10" cy="218.50" r="1.5" fill="#000"/>
<circle cx="73.80" cy="193.10" r="1.5" fill="#000"/>
<circle cx="79.60" cy="192.60" r="1.5" fill="#000"/>
<circle cx="76.60" cy="197.10" r="1.5" fill="#000"/>
<circle cx="76.60" cy="223.40" r="1.5" fill="#000"/>
<circle cx="94.40" cy="217.90" r="1.5" fill="#000"/>
<circle cx="101.10" cy="219.90" r="1.5" fill="#000"/>
<circle cx="107.60" cy="219.90" r="1.5" fill="#000"/>
<circle cx="100.60" cy="224.60" r="1.5" fill="#000"/>
<circle cx="97.40" cy="238.90" r="1.5" fill="#000"/>
<circle cx="104.40" cy="238.90" r="1.5" fill="#000"/>
<circle cx="118.60" cy="237.50" r="1.5" fill="#000"/>
<circle cx="125.00" cy="239.20" r="1.5" fill="#000"/>
<circle cx="125.00" cy="246.20" r="1.5" fill="#000"/>
<circle cx="118.90" cy="248.80" r="1.5" fill="#000"/>
<circle cx="132.00" cy="248.80" r="1.5" fill="#000"/>
<line x1="36.35" y1="182.05" x2="36.35" y2="251.30" stroke="#111" stroke-width="0.9"/>
<line x1="33.75" y1="251.30" x2="36.35" y2="251.30" stroke="#111" stroke-width="0.8"/>
<text x="0" y="0" transform="translate(32.95 253.71) scale(0.8800 1)" font-size="6.27" text-anchor="end" font-weight="bold" textLength="3.60" lengthAdjust="spacing" fill="#000" stroke="#000" stroke-width="0.17">0</text>
<line x1="33.75" y1="237.36" x2="36.35" y2="237.36" stroke="#111" stroke-width="0.8"/>
<text x="0" y="0" transform="translate(32.95 239.77) scale(0.8800 1)" font-size="6.27" text-anchor="end" font-weight="bold" textLength="10.81" lengthAdjust="spacing" fill="#000" stroke="#000" stroke-width="0.17">200</text>
<line x1="33.75" y1="223.42" x2="36.35" y2="223.42" stroke="#111" stroke-width="0.8"/>
<text x="0" y="0" transform="translate(32.95 225.83) scale(0.8800 1)" font-size="6.27" text-anchor="end" font-weight="bold" textLength="10.81" lengthAdjust="spacing" fill="#000" stroke="#000" stroke-width="0.17">400</text>
<line x1="33.75" y1="209.48" x2="36.35" y2="209.48" stroke="#111" stroke-width="0.8"/>
<text x="0" y="0" transform="translate(32.95 211.89) scale(0.8800 1)" font-size="6.27" text-anchor="end" font-weight="bold" textLength="10.81" lengthAdjust="spacing" fill="#000" stroke="#000" stroke-width="0.17">600</text>
<line x1="33.75" y1="195.54" x2="36.35" y2="195.54" stroke="#111" stroke-width="0.8"/>
<text x="0" y="0" transform="translate(32.95 197.95) scale(0.8800 1)" font-size="6.27" text-anchor="end" font-weight="bold" textLength="10.81" lengthAdjust="spacing" fill="#000" stroke="#000" stroke-width="0.17">800</text>
<line x1="33.75" y1="181.60" x2="36.35" y2="181.60" stroke="#111" stroke-width="0.8"/>
<text x="0" y="0" transform="translate(32.95 184.01) scale(0.8800 1)" font-size="6.27" text-anchor="end" font-weight="bold" textLength="14.41" lengthAdjust="spacing" fill="#000" stroke="#000" stroke-width="0.17">1000</text>
<line x1="36.35" y1="251.30" x2="142.00" y2="251.30" stroke="#111" stroke-width="0.9"/>
<line x1="52.30" y1="251.30" x2="52.30" y2="253.90" stroke="#111" stroke-width="0.9"/>
<text x="0" y="0" transform="translate(52.30 262.00)" font-size="6.6" text-anchor="middle" textLength="8.2" lengthAdjust="spacingAndGlyphs" fill="#222" stroke="#222" stroke-width="0.06">2.5</text>
<line x1="76.80" y1="251.30" x2="76.80" y2="253.90" stroke="#111" stroke-width="0.9"/>
<text x="0" y="0" transform="translate(76.80 262.00)" font-size="6.6" text-anchor="middle" textLength="6.56" lengthAdjust="spacingAndGlyphs" fill="#222" stroke="#222" stroke-width="0.06">55</text>
<line x1="101.20" y1="251.30" x2="101.20" y2="253.90" stroke="#111" stroke-width="0.9"/>
<text x="0" y="0" transform="translate(101.20 262.00)" font-size="6.6" text-anchor="middle" textLength="8.2" lengthAdjust="spacingAndGlyphs" fill="#222" stroke="#222" stroke-width="0.06">2.5</text>
<line x1="125.40" y1="251.30" x2="125.40" y2="253.90" stroke="#111" stroke-width="0.9"/>
<text x="0" y="0" transform="translate(125.40 262.00)" font-size="6.6" text-anchor="middle" textLength="6.56" lengthAdjust="spacingAndGlyphs" fill="#222" stroke="#222" stroke-width="0.06">55</text>
<polyline points="40.20,260.30 40.20,263.30 86.20,263.30 86.20,260.30" stroke="#999" stroke-width="0.7" fill="none"/>
<polyline points="90.30,260.30 90.30,263.30 137.30,263.30 137.30,260.30" stroke="#999" stroke-width="0.7" fill="none"/>
<text x="0" y="0" transform="translate(58.60 271.00)" font-size="5.9" text-anchor="middle" textLength="24.6" lengthAdjust="spacingAndGlyphs" fill="#222" stroke="#222" stroke-width="0.06">Galactose</text>
<text x="0" y="0" transform="translate(117.50 271.00)" font-size="6.0" text-anchor="middle" textLength="69.5" lengthAdjust="spacingAndGlyphs" fill="#222" stroke="#222" stroke-width="0.06">Galactose+3.5mM ManNAc</text>
<text x="0" y="0" transform="translate(92.50 280.20) scale(0.8800 1)" font-size="7.3" text-anchor="middle" font-weight="bold" textLength="72.39" lengthAdjust="spacing" fill="#000" stroke="#000" stroke-width="0.17">Concentration (mM)</text>
<polyline points="54.80,187.00 54.80,182.30 120.70,182.30 120.70,215.00" stroke="#999" stroke-width="0.8" fill="none"/>
<polyline points="47.20,212.30 47.20,187.90 76.60,187.90 76.60,190.50" stroke="#999" stroke-width="0.8" fill="none"/>
<polyline points="101.10,218.00 101.10,216.20 125.90,216.20 125.90,231.70" stroke="#999" stroke-width="0.8" fill="none"/>
<ellipse cx="76.50" cy="180.40" rx="0.78" ry="0.82" fill="#3a3a3a"/>
<ellipse cx="79.20" cy="180.40" rx="0.78" ry="0.82" fill="#3a3a3a"/>
<ellipse cx="81.70" cy="180.40" rx="0.78" ry="0.82" fill="#3a3a3a"/>
<ellipse cx="84.30" cy="180.40" rx="0.78" ry="0.82" fill="#3a3a3a"/>
<text x="0" y="0" transform="translate(209.30 168.20)" font-size="7.2" text-anchor="middle" font-weight="bold" fill="#000" stroke="#000" stroke-width="0.17">F</text>
<text x="0" y="0" transform="translate(269.20 176.40)" font-size="7.0" text-anchor="middle" textLength="44.4" lengthAdjust="spacingAndGlyphs" fill="#333" stroke="#333" stroke-width="0.06">P<tspan font-style="italic">galK</tspan>::<tspan font-style="italic">lacZ</tspan>-wt</text>
<rect x="223.20" y="224.16" width="16.40" height="30.24" fill="#c06000"/>
<rect x="248.20" y="200.76" width="16.40" height="53.64" fill="#0000ff"/>
<rect x="273.00" y="247.42" width="16.40" height="6.98" fill="#c06000"/>
<rect x="297.70" y="248.64" width="16.40" height="5.76" fill="#0000ff"/>
<line x1="231.40" y1="223.00" x2="231.40" y2="225.00" stroke="#222" stroke-width="1.0"/>
<line x1="227.20" y1="223.00" x2="235.60" y2="223.00" stroke="#222" stroke-width="1.0"/>
<line x1="227.20" y1="225.00" x2="235.60" y2="225.00" stroke="#222" stroke-width="1.0"/>
<line x1="256.40" y1="194.80" x2="256.40" y2="206.50" stroke="#000" stroke-width="1.0"/>
<line x1="252.20" y1="194.80" x2="260.60" y2="194.80" stroke="#000" stroke-width="1.0"/>
<line x1="252.20" y1="206.50" x2="260.60" y2="206.50" stroke="#000" stroke-width="1.0"/>
<line x1="281.20" y1="246.00" x2="281.20" y2="248.50" stroke="#222" stroke-width="1.0"/>
<line x1="277.00" y1="246.00" x2="285.40" y2="246.00" stroke="#222" stroke-width="1.0"/>
<line x1="277.00" y1="248.50" x2="285.40" y2="248.50" stroke="#222" stroke-width="1.0"/>
<line x1="305.90" y1="247.50" x2="305.90" y2="249.50" stroke="#222" stroke-width="1.0"/>
<line x1="301.70" y1="247.50" x2="310.10" y2="247.50" stroke="#222" stroke-width="1.0"/>
<line x1="301.70" y1="249.50" x2="310.10" y2="249.50" stroke="#222" stroke-width="1.0"/>
<circle cx="224.80" cy="222.90" r="1.5" fill="#000"/>
<circle cx="231.60" cy="222.90" r="1.5" fill="#000"/>
<circle cx="238.30" cy="222.90" r="1.5" fill="#000"/>
<circle cx="224.80" cy="226.90" r="1.5" fill="#000"/>
<circle cx="253.50" cy="191.10" r="1.5" fill="#000"/>
<circle cx="259.60" cy="190.70" r="1.5" fill="#000"/>
<circle cx="253.50" cy="211.70" r="1.5" fill="#000"/>
<circle cx="259.60" cy="209.60" r="1.5" fill="#000"/>
<circle cx="274.50" cy="245.00" r="1.5" fill="#000"/>
<circle cx="281.10" cy="246.50" r="1.5" fill="#000"/>
<circle cx="287.60" cy="247.90" r="1.5" fill="#000"/>
<circle cx="274.50" cy="250.00" r="1.5" fill="#000"/>
<circle cx="299.40" cy="246.10" r="1.5" fill="#000"/>
<circle cx="305.90" cy="247.30" r="1.5" fill="#000"/>
<circle cx="312.40" cy="249.10" r="1.5" fill="#000"/>
<circle cx="299.40" cy="250.50" r="1.5" fill="#000"/>
<line x1="215.00" y1="182.85" x2="215.00" y2="254.40" stroke="#111" stroke-width="0.9"/>
<line x1="212.40" y1="254.40" x2="215.00" y2="254.40" stroke="#111" stroke-width="0.8"/>
<text x="0" y="0" transform="translate(211.60 256.89) scale(0.8800 1)" font-size="6.49" text-anchor="end" font-weight="bold" textLength="3.73" lengthAdjust="spacing" fill="#000" stroke="#000" stroke-width="0.17">0</text>
<line x1="212.40" y1="236.40" x2="215.00" y2="236.40" stroke="#111" stroke-width="0.8"/>
<text x="0" y="0" transform="translate(211.60 238.89) scale(0.8800 1)" font-size="6.49" text-anchor="end" font-weight="bold" textLength="7.45" lengthAdjust="spacing" fill="#000" stroke="#000" stroke-width="0.17">50</text>
<line x1="212.40" y1="218.40" x2="215.00" y2="218.40" stroke="#111" stroke-width="0.8"/>
<text x="0" y="0" transform="translate(211.60 220.89) scale(0.8800 1)" font-size="6.49" text-anchor="end" font-weight="bold" textLength="11.18" lengthAdjust="spacing" fill="#000" stroke="#000" stroke-width="0.17">100</text>
<line x1="212.40" y1="200.40" x2="215.00" y2="200.40" stroke="#111" stroke-width="0.8"/>
<text x="0" y="0" transform="translate(211.60 202.89) scale(0.8800 1)" font-size="6.49" text-anchor="end" font-weight="bold" textLength="11.18" lengthAdjust="spacing" fill="#000" stroke="#000" stroke-width="0.17">150</text>
<line x1="212.40" y1="182.40" x2="215.00" y2="182.40" stroke="#111" stroke-width="0.8"/>
<text x="0" y="0" transform="translate(211.60 184.89) scale(0.8800 1)" font-size="6.49" text-anchor="end" font-weight="bold" textLength="11.18" lengthAdjust="spacing" fill="#000" stroke="#000" stroke-width="0.17">200</text>
<line x1="215.00" y1="254.40" x2="321.00" y2="254.40" stroke="#111" stroke-width="0.9"/>
<line x1="231.40" y1="254.40" x2="231.40" y2="257.00" stroke="#111" stroke-width="0.9"/>
<text x="0" y="0" transform="translate(231.40 263.70)" font-size="6.6" text-anchor="middle" textLength="8.2" lengthAdjust="spacingAndGlyphs" fill="#222" stroke="#222" stroke-width="0.06">2.5</text>
<line x1="256.40" y1="254.40" x2="256.40" y2="257.00" stroke="#111" stroke-width="0.9"/>
<text x="0" y="0" transform="translate(256.40 263.70)" font-size="6.6" text-anchor="middle" textLength="6.56" lengthAdjust="spacingAndGlyphs" fill="#222" stroke="#222" stroke-width="0.06">55</text>
<line x1="281.20" y1="254.40" x2="281.20" y2="257.00" stroke="#111" stroke-width="0.9"/>
<text x="0" y="0" transform="translate(281.20 263.70)" font-size="6.6" text-anchor="middle" textLength="8.2" lengthAdjust="spacingAndGlyphs" fill="#222" stroke="#222" stroke-width="0.06">2.5</text>
<line x1="305.90" y1="254.40" x2="305.90" y2="257.00" stroke="#111" stroke-width="0.9"/>
<text x="0" y="0" transform="translate(305.90 263.70)" font-size="6.6" text-anchor="middle" textLength="6.56" lengthAdjust="spacingAndGlyphs" fill="#222" stroke="#222" stroke-width="0.06">55</text>
<polyline points="219.10,261.20 219.10,264.20 266.00,264.20 266.00,261.20" stroke="#999" stroke-width="0.7" fill="none"/>
<polyline points="270.30,261.20 270.30,264.20 318.50,264.20 318.50,261.20" stroke="#999" stroke-width="0.7" fill="none"/>
<text x="0" y="0" transform="translate(238.65 271.40)" font-size="5.9" text-anchor="middle" textLength="25.1" lengthAdjust="spacingAndGlyphs" fill="#222" stroke="#222" stroke-width="0.06">Galactose</text>
<text x="0" y="0" transform="translate(298.90 271.40)" font-size="6.0" text-anchor="middle" textLength="70.8" lengthAdjust="spacingAndGlyphs" fill="#222" stroke="#222" stroke-width="0.06">Galactose+3.5mM ManNAc</text>
<text x="0" y="0" transform="translate(266.20 283.80) scale(0.8800 1)" font-size="7.3" text-anchor="middle" font-weight="bold" textLength="73.98" lengthAdjust="spacing" fill="#000" stroke="#000" stroke-width="0.17">Concentration (mM)</text>
<polyline points="223.50,222.20 223.50,188.20 297.50,188.20 297.50,229.90" stroke="#888" stroke-width="0.8" fill="none"/>
<line x1="230.50" y1="187.20" x2="297.50" y2="187.20" stroke="#c8c8c8" stroke-width="0.8"/>
<polyline points="275.30,240.40 275.30,232.10 310.30,232.10 310.30,240.40" stroke="#999" stroke-width="0.8" fill="none"/>
<ellipse cx="257.50" cy="184.90" rx="0.78" ry="0.82" fill="#3a3a3a"/>
<ellipse cx="260.00" cy="184.90" rx="0.78" ry="0.82" fill="#3a3a3a"/>
<ellipse cx="262.50" cy="184.90" rx="0.78" ry="0.82" fill="#3a3a3a"/>
<ellipse cx="265.20" cy="184.90" rx="0.78" ry="0.82" fill="#3a3a3a"/>
<text x="0" y="0" transform="translate(385.20 176.90)" font-size="6.4" text-anchor="middle" font-weight="bold" fill="#000" stroke="#000" stroke-width="0.17">G</text>
<line x1="383.20" y1="187.40" x2="383.20" y2="254.30" stroke="#111" stroke-width="1.3"/>
<line x1="380.80" y1="187.30" x2="383.20" y2="187.30" stroke="#111" stroke-width="0.8"/>
<text x="0" y="0" transform="translate(380.20 189.30)" font-size="5.6" text-anchor="end" font-weight="bold" fill="#000" stroke="#000" stroke-width="0.17">0.30</text>
<line x1="380.80" y1="200.70" x2="383.20" y2="200.70" stroke="#111" stroke-width="0.8"/>
<text x="0" y="0" transform="translate(380.20 202.70)" font-size="5.6" text-anchor="end" font-weight="bold" fill="#000" stroke="#000" stroke-width="0.17">0.25</text>
<line x1="380.80" y1="214.10" x2="383.20" y2="214.10" stroke="#111" stroke-width="0.8"/>
<text x="0" y="0" transform="translate(380.20 216.10)" font-size="5.6" text-anchor="end" font-weight="bold" fill="#000" stroke="#000" stroke-width="0.17">0.20</text>
<line x1="380.80" y1="227.50" x2="383.20" y2="227.50" stroke="#111" stroke-width="0.8"/>
<text x="0" y="0" transform="translate(380.20 229.50)" font-size="5.6" text-anchor="end" font-weight="bold" fill="#000" stroke="#000" stroke-width="0.17">0.15</text>
<line x1="380.80" y1="240.90" x2="383.20" y2="240.90" stroke="#111" stroke-width="0.8"/>
<text x="0" y="0" transform="translate(380.20 242.90)" font-size="5.6" text-anchor="end" font-weight="bold" fill="#000" stroke="#000" stroke-width="0.17">0.10</text>
<line x1="380.80" y1="254.30" x2="383.20" y2="254.30" stroke="#111" stroke-width="0.8"/>
<text x="0" y="0" transform="translate(380.20 256.30)" font-size="5.6" text-anchor="end" font-weight="bold" fill="#000" stroke="#000" stroke-width="0.17">0.05</text>
<line x1="383.20" y1="254.30" x2="484.40" y2="254.30" stroke="#111" stroke-width="0.9"/>
<line x1="383.20" y1="254.30" x2="383.20" y2="256.70" stroke="#111" stroke-width="0.9"/>
<text x="0" y="0" transform="translate(383.20 262.80)" font-size="5.7" text-anchor="middle" font-weight="bold" fill="#000" stroke="#000" stroke-width="0.17">0</text>
<line x1="403.40" y1="254.30" x2="403.40" y2="256.70" stroke="#111" stroke-width="0.9"/>
<text x="0" y="0" transform="translate(403.40 262.80)" font-size="5.7" text-anchor="middle" font-weight="bold" fill="#000" stroke="#000" stroke-width="0.17">5</text>
<line x1="423.60" y1="254.30" x2="423.60" y2="256.70" stroke="#111" stroke-width="0.9"/>
<text x="0" y="0" transform="translate(423.60 262.80)" font-size="5.7" text-anchor="middle" font-weight="bold" fill="#000" stroke="#000" stroke-width="0.17">10</text>
<line x1="443.80" y1="254.30" x2="443.80" y2="256.70" stroke="#111" stroke-width="0.9"/>
<text x="0" y="0" transform="translate(443.80 262.80)" font-size="5.7" text-anchor="middle" font-weight="bold" fill="#000" stroke="#000" stroke-width="0.17">15</text>
<line x1="464.00" y1="254.30" x2="464.00" y2="256.70" stroke="#111" stroke-width="0.9"/>
<text x="0" y="0" transform="translate(464.00 262.80)" font-size="5.7" text-anchor="middle" font-weight="bold" fill="#000" stroke="#000" stroke-width="0.17">20</text>
<line x1="484.20" y1="254.30" x2="484.20" y2="256.70" stroke="#111" stroke-width="0.9"/>
<text x="0" y="0" transform="translate(484.20 262.80)" font-size="5.7" text-anchor="middle" font-weight="bold" fill="#000" stroke="#000" stroke-width="0.17">25</text>
<text x="0" y="0" transform="translate(433.80 270.30)" font-size="6.0" text-anchor="middle" textLength="33.5" lengthAdjust="spacingAndGlyphs" fill="#111" stroke="#111" stroke-width="0.06">Time (hours)</text>
<line x1="407.90" y1="193.80" x2="407.90" y2="203.00" stroke="#000" stroke-width="1.0"/>
<polygon points="405.3,201.6 410.6,201.6 407.9,208.7" fill="#000"/>
<polygon points="383.85,242.26 386.95,242.26 385.40,244.90" fill="#0000ff"/>
<polygon points="383.85,240.26 386.95,240.26 385.40,242.90" fill="#0000ff"/>
<polygon points="383.85,238.26 386.95,238.26 385.40,240.90" fill="#0000ff"/>
<polygon points="387.89,239.26 390.99,239.26 389.44,241.90" fill="#0000ff"/>
<polygon points="387.89,236.76 390.99,236.76 389.44,239.40" fill="#0000ff"/>
<polygon points="387.89,240.76 390.99,240.76 389.44,243.40" fill="#0000ff"/>
<polygon points="391.93,235.26 395.03,235.26 393.48,237.90" fill="#0000ff"/>
<polygon points="391.93,232.26 395.03,232.26 393.48,234.90" fill="#0000ff"/>
<polygon points="391.93,237.76 395.03,237.76 393.48,240.40" fill="#0000ff"/>
<polygon points="395.97,232.46 399.07,232.46 397.52,235.09" fill="#0000ff"/>
<polygon points="395.97,228.76 399.07,228.76 397.52,231.40" fill="#0000ff"/>
<polygon points="395.97,234.76 399.07,234.76 397.52,237.40" fill="#0000ff"/>
<polygon points="400.01,221.96 403.11,221.96 401.56,224.59" fill="#0000ff"/>
<polygon points="400.01,227.76 403.11,227.76 401.56,230.40" fill="#0000ff"/>
<polygon points="400.01,230.76 403.11,230.76 401.56,233.40" fill="#0000ff"/>
<polygon points="404.05,222.76 407.15,222.76 405.60,225.40" fill="#0000ff"/>
<polygon points="404.05,225.76 407.15,225.76 405.60,228.40" fill="#0000ff"/>
<polygon points="404.05,228.26 407.15,228.26 405.60,230.90" fill="#0000ff"/>
<polygon points="408.09,217.76 411.19,217.76 409.64,220.40" fill="#0000ff"/>
<polygon points="408.09,220.76 411.19,220.76 409.64,223.40" fill="#0000ff"/>
<polygon points="408.09,224.76 411.19,224.76 409.64,227.40" fill="#0000ff"/>
<polygon points="412.13,209.76 415.23,209.76 413.68,212.40" fill="#0000ff"/>
<polygon points="412.13,213.56 415.23,213.56 413.68,216.20" fill="#0000ff"/>
<polygon points="412.13,216.26 415.23,216.26 413.68,218.90" fill="#0000ff"/>
<polygon points="414.47,193.06 417.57,193.06 416.02,195.70" fill="#0000ff"/>
<polygon points="418.51,191.66 421.61,191.66 420.06,194.30" fill="#0000ff"/>
<polygon points="422.55,190.66 425.65,190.66 424.10,193.30" fill="#0000ff"/>
<polygon points="426.59,190.16 429.69,190.16 428.14,192.80" fill="#0000ff"/>
<polygon points="430.63,189.66 433.73,189.66 432.18,192.30" fill="#0000ff"/>
<polygon points="434.67,189.16 437.77,189.16 436.22,191.80" fill="#0000ff"/>
<polygon points="438.71,188.76 441.81,188.76 440.26,191.40" fill="#0000ff"/>
<polygon points="442.75,188.76 445.85,188.76 444.30,191.40" fill="#0000ff"/>
<polygon points="446.79,189.06 449.89,189.06 448.34,191.70" fill="#0000ff"/>
<polygon points="450.83,189.66 453.93,189.66 452.38,192.30" fill="#0000ff"/>
<polygon points="454.87,190.46 457.97,190.46 456.42,193.10" fill="#0000ff"/>
<polygon points="458.91,191.56 462.01,191.56 460.46,194.20" fill="#0000ff"/>
<polygon points="462.95,193.26 466.05,193.26 464.50,195.90" fill="#0000ff"/>
<polygon points="466.99,195.86 470.09,195.86 468.54,198.50" fill="#0000ff"/>
<polygon points="414.47,200.46 417.57,200.46 416.02,203.09" fill="#0000ff"/>
<polygon points="418.51,198.46 421.61,198.46 420.06,201.09" fill="#0000ff"/>
<polygon points="422.55,197.46 425.65,197.46 424.10,200.09" fill="#0000ff"/>
<polygon points="426.59,196.96 429.69,196.96 428.14,199.59" fill="#0000ff"/>
<polygon points="430.63,196.46 433.73,196.46 432.18,199.09" fill="#0000ff"/>
<polygon points="434.67,195.46 437.77,195.46 436.22,198.09" fill="#0000ff"/>
<polygon points="438.71,194.96 441.81,194.96 440.26,197.59" fill="#0000ff"/>
<polygon points="442.75,193.96 445.85,193.96 444.30,196.59" fill="#0000ff"/>
<polygon points="446.79,193.46 449.89,193.46 448.34,196.09" fill="#0000ff"/>
<polygon points="450.83,193.96 453.93,193.96 452.38,196.59" fill="#0000ff"/>
<polygon points="454.87,195.46 457.97,195.46 456.42,198.09" fill="#0000ff"/>
<polygon points="458.91,197.96 462.01,197.96 460.46,200.59" fill="#0000ff"/>
<polygon points="462.95,199.96 466.05,199.96 464.50,202.59" fill="#0000ff"/>
<polygon points="466.99,201.46 470.09,201.46 468.54,204.09" fill="#0000ff"/>
<polygon points="414.47,208.66 417.57,208.66 416.02,211.30" fill="#0000ff"/>
<polygon points="418.51,207.76 421.61,207.76 420.06,210.40" fill="#0000ff"/>
<polygon points="422.55,205.96 425.65,205.96 424.10,208.59" fill="#0000ff"/>
<polygon points="426.59,205.16 429.69,205.16 428.14,207.80" fill="#0000ff"/>
<polygon points="430.63,204.26 433.73,204.26 432.18,206.90" fill="#0000ff"/>
<polygon points="434.67,202.56 437.77,202.56 436.22,205.20" fill="#0000ff"/>
<polygon points="438.71,200.76 441.81,200.76 440.26,203.40" fill="#0000ff"/>
<polygon points="442.75,199.26 445.85,199.26 444.30,201.90" fill="#0000ff"/>
<polygon points="446.79,198.26 449.89,198.26 448.34,200.90" fill="#0000ff"/>
<polygon points="450.83,197.76 453.93,197.76 452.38,200.40" fill="#0000ff"/>
<polygon points="454.87,197.26 457.97,197.26 456.42,199.90" fill="#0000ff"/>
<polygon points="458.91,197.76 462.01,197.76 460.46,200.40" fill="#0000ff"/>
<polygon points="462.95,198.76 466.05,198.76 464.50,201.40" fill="#0000ff"/>
<polygon points="466.99,200.26 470.09,200.26 468.54,202.90" fill="#0000ff"/>
<circle cx="385.00" cy="238.60" r="1.15" fill="#000"/>
<circle cx="385.00" cy="236.00" r="1.15" fill="#000"/>
<circle cx="385.00" cy="240.50" r="1.15" fill="#000"/>
<circle cx="389.04" cy="235.10" r="1.15" fill="#000"/>
<circle cx="389.04" cy="237.50" r="1.15" fill="#000"/>
<circle cx="389.04" cy="240.70" r="1.15" fill="#000"/>
<circle cx="393.08" cy="233.00" r="1.15" fill="#000"/>
<circle cx="393.08" cy="236.00" r="1.15" fill="#000"/>
<circle cx="393.08" cy="238.50" r="1.15" fill="#000"/>
<circle cx="397.12" cy="228.10" r="1.15" fill="#000"/>
<circle cx="397.12" cy="232.50" r="1.15" fill="#000"/>
<circle cx="397.12" cy="237.20" r="1.15" fill="#000"/>
<circle cx="401.16" cy="219.70" r="1.15" fill="#000"/>
<circle cx="401.16" cy="226.00" r="1.15" fill="#000"/>
<circle cx="401.16" cy="234.40" r="1.15" fill="#000"/>
<circle cx="405.20" cy="216.90" r="1.15" fill="#000"/>
<circle cx="405.20" cy="222.00" r="1.15" fill="#000"/>
<circle cx="405.20" cy="229.00" r="1.15" fill="#000"/>
<circle cx="409.24" cy="216.50" r="1.15" fill="#000"/>
<circle cx="409.24" cy="219.50" r="1.15" fill="#000"/>
<circle cx="409.24" cy="222.00" r="1.15" fill="#000"/>
<circle cx="413.28" cy="218.50" r="1.15" fill="#000"/>
<circle cx="413.28" cy="220.50" r="1.15" fill="#000"/>
<circle cx="413.28" cy="222.50" r="1.15" fill="#000"/>
<circle cx="417.32" cy="220.50" r="1.15" fill="#000"/>
<circle cx="417.32" cy="222.60" r="1.15" fill="#000"/>
<circle cx="417.32" cy="224.50" r="1.15" fill="#000"/>
<circle cx="421.36" cy="221.00" r="1.15" fill="#000"/>
<circle cx="421.36" cy="223.00" r="1.15" fill="#000"/>
<circle cx="421.36" cy="225.50" r="1.15" fill="#000"/>
<circle cx="425.40" cy="221.50" r="1.15" fill="#000"/>
<circle cx="425.40" cy="223.50" r="1.15" fill="#000"/>
<circle cx="425.40" cy="226.00" r="1.15" fill="#000"/>
<circle cx="429.44" cy="219.00" r="1.15" fill="#000"/>
<circle cx="429.44" cy="223.00" r="1.15" fill="#000"/>
<circle cx="429.44" cy="226.50" r="1.15" fill="#000"/>
<circle cx="432.38" cy="209.50" r="1.15" fill="#000"/>
<circle cx="436.42" cy="205.00" r="1.15" fill="#000"/>
<circle cx="440.46" cy="201.00" r="1.15" fill="#000"/>
<circle cx="444.50" cy="200.10" r="1.15" fill="#000"/>
<circle cx="448.54" cy="199.20" r="1.15" fill="#000"/>
<circle cx="452.58" cy="198.40" r="1.15" fill="#000"/>
<circle cx="456.62" cy="199.20" r="1.15" fill="#000"/>
<circle cx="460.66" cy="200.10" r="1.15" fill="#000"/>
<circle cx="464.70" cy="201.00" r="1.15" fill="#000"/>
<circle cx="468.74" cy="201.90" r="1.15" fill="#000"/>
<circle cx="432.38" cy="213.00" r="1.15" fill="#000"/>
<circle cx="436.42" cy="209.00" r="1.15" fill="#000"/>
<circle cx="440.46" cy="206.00" r="1.15" fill="#000"/>
<circle cx="444.50" cy="204.00" r="1.15" fill="#000"/>
<circle cx="448.54" cy="203.00" r="1.15" fill="#000"/>
<circle cx="452.58" cy="202.30" r="1.15" fill="#000"/>
<circle cx="456.62" cy="202.00" r="1.15" fill="#000"/>
<circle cx="460.66" cy="202.00" r="1.15" fill="#000"/>
<circle cx="464.70" cy="202.30" r="1.15" fill="#000"/>
<circle cx="468.74" cy="202.50" r="1.15" fill="#000"/>
<circle cx="432.38" cy="219.00" r="1.15" fill="#000"/>
<circle cx="436.42" cy="214.00" r="1.15" fill="#000"/>
<circle cx="440.46" cy="212.30" r="1.15" fill="#000"/>
<circle cx="444.50" cy="210.60" r="1.15" fill="#000"/>
<circle cx="448.54" cy="209.40" r="1.15" fill="#000"/>
<circle cx="452.58" cy="208.80" r="1.15" fill="#000"/>
<circle cx="456.62" cy="208.80" r="1.15" fill="#000"/>
<circle cx="460.66" cy="208.80" r="1.15" fill="#000"/>
<circle cx="464.70" cy="208.80" r="1.15" fill="#000"/>
<circle cx="468.74" cy="208.80" r="1.15" fill="#000"/>
<path d="M386.00,242.60 C386.90,241.70 389.57,239.03 391.40,237.20 C393.23,235.37 394.90,233.23 397.00,231.60 C399.10,229.97 402.17,228.58 404.00,227.40 C405.83,226.22 406.95,225.67 408.00,224.50 C409.05,223.33 409.45,222.25 410.30,220.40 C411.15,218.55 412.05,215.80 413.10,213.40 C414.15,211.00 415.53,207.70 416.60,206.00 C417.67,204.30 418.47,203.97 419.50,203.20 C420.53,202.43 420.80,202.17 422.80,201.40 C424.80,200.63 428.63,199.43 431.50,198.60 C434.37,197.77 437.42,196.87 440.00,196.40 C442.58,195.93 444.97,195.93 447.00,195.80 C449.03,195.67 450.45,195.40 452.20,195.60 C453.95,195.80 455.75,196.37 457.50,197.00 C459.25,197.63 460.95,198.58 462.70,199.40 C464.45,200.22 467.12,201.48 468.00,201.90" stroke="#0000ff" stroke-width="1.1" fill="none"/>
<path d="M385.60,238.40 C386.57,237.85 389.50,236.35 391.40,235.10 C393.30,233.85 395.48,232.42 397.00,230.90 C398.52,229.38 399.33,227.63 400.50,226.00 C401.67,224.37 402.92,222.23 404.00,221.10 C405.08,219.97 406.07,219.67 407.00,219.20 C407.93,218.73 408.70,218.22 409.60,218.30 C410.50,218.38 411.08,218.98 412.40,219.70 C413.72,220.42 415.18,221.97 417.50,222.60 C419.82,223.23 424.25,223.50 426.30,223.50 C428.35,223.50 428.35,223.92 429.80,222.60 C431.25,221.28 433.25,217.78 435.00,215.60 C436.75,213.42 438.63,211.23 440.30,209.50 C441.97,207.77 443.30,206.40 445.00,205.20 C446.70,204.00 448.67,202.85 450.50,202.30 C452.33,201.75 452.80,201.97 456.00,201.90 C459.20,201.83 467.42,201.90 469.70,201.90" stroke="#000" stroke-width="1.2" fill="none"/>
<line x1="476.90" y1="221.30" x2="483.90" y2="221.30" stroke="#000" stroke-width="1.1"/>
<circle cx="480.40" cy="221.30" r="1.0" fill="#000"/>
<line x1="476.90" y1="230.20" x2="483.90" y2="230.20" stroke="#0000ff" stroke-width="1.1"/>
<polygon points="479.00,228.88 481.80,228.88 480.40,231.26" fill="#0000ff"/>
<text x="0" y="0" transform="translate(488.10 223.30)" font-size="5.4" textLength="32" lengthAdjust="spacingAndGlyphs" fill="#222" stroke="#222" stroke-width="0.06">Gal+ManNAc</text>
<text x="0" y="0" transform="translate(488.10 232.20)" font-size="5.4" textLength="7.9" lengthAdjust="spacingAndGlyphs" fill="#222" stroke="#222" stroke-width="0.06">Gal</text>
</g></svg>
<svg class="ov" xmlns="http://www.w3.org/2000/svg" width="685" height="286" viewBox="0 0 685 286" font-family='"Liberation Sans", sans-serif'>
<text x="0" y="0" transform="translate(5.86 59.45) rotate(-90)" font-size="6.4" text-anchor="middle" font-weight="bold" style="letter-spacing:-0.205px;" fill="#000" stroke="#000" stroke-width="0.08">β-galactosidase activity</text>
<text x="0" y="0" transform="translate(14.06 58.25) rotate(-90)" font-size="6.4" text-anchor="middle" font-weight="bold" style="letter-spacing:-0.118px;" fill="#000" stroke="#000" stroke-width="0.08">(Miller unit/10<tspan font-size="4.22" dy="-2.30">8</tspan><tspan dy="2.30">&#160;CFU)</tspan></text>
<text x="0" y="0" transform="translate(185.96 59.45) rotate(-90)" font-size="6.4" text-anchor="middle" font-weight="bold" style="letter-spacing:-0.231px;" fill="#000" stroke="#000" stroke-width="0.08">β-galactosidase activity</text>
<text x="0" y="0" transform="translate(195.36 58.80) rotate(-90)" font-size="6.4" text-anchor="middle" font-weight="bold" style="letter-spacing:-0.173px;" fill="#000" stroke="#000" stroke-width="0.08">(Miller unit/10<tspan font-size="4.22" dy="-2.30">8</tspan><tspan dy="2.30">&#160;CFU)</tspan></text>
<text x="0" y="0" transform="translate(368.92 58.60) rotate(-90)" font-size="7.0" text-anchor="middle" font-weight="bold" style="letter-spacing:-0.016px;" fill="#000" stroke="#000" stroke-width="0.08">β-galactosidase activity</text>
<text x="0" y="0" transform="translate(378.92 57.60) rotate(-90)" font-size="7.0" text-anchor="middle" font-weight="bold" style="letter-spacing:-0.047px;" fill="#000" stroke="#000" stroke-width="0.08">(Miller unit/10<tspan font-size="4.62" dy="-2.52">8</tspan><tspan dy="2.52">&#160;CFU)</tspan></text>
<text x="0" y="0" transform="translate(549.67 57.25) rotate(-90)" font-size="7.2" text-anchor="middle" font-weight="bold" style="letter-spacing:-0.032px;" fill="#000" stroke="#000" stroke-width="0.08">β-galactosidase activity</text>
<text x="0" y="0" transform="translate(559.47 57.75) rotate(-90)" font-size="7.2" text-anchor="middle" font-weight="bold" style="letter-spacing:-0.127px;" fill="#000" stroke="#000" stroke-width="0.08">(Miller unit/10<tspan font-size="4.75" dy="-2.59">8</tspan><tspan dy="2.59">&#160;CFU)</tspan></text>
<text x="0" y="0" transform="translate(6.19 215.75) rotate(-90)" font-size="6.9" text-anchor="middle" font-weight="bold" style="letter-spacing:-0.146px;" fill="#000" stroke="#000" stroke-width="0.08">β-galactosidase activity</text>
<text x="0" y="0" transform="translate(15.79 216.05) rotate(-90)" font-size="6.9" text-anchor="middle" font-weight="bold" style="letter-spacing:-0.215px;" fill="#000" stroke="#000" stroke-width="0.08">(Miller unit/10<tspan font-size="4.55" dy="-2.48">8</tspan><tspan dy="2.48">&#160;CFU)</tspan></text>
<text x="0" y="0" transform="translate(187.12 218.60) rotate(-90)" font-size="7.0" text-anchor="middle" font-weight="bold" style="letter-spacing:-0.121px;" fill="#000" stroke="#000" stroke-width="0.08">β-galactosidase activity</text>
<text x="0" y="0" transform="translate(196.52 217.75) rotate(-90)" font-size="7.0" text-anchor="middle" font-weight="bold" style="letter-spacing:-0.112px;" fill="#000" stroke="#000" stroke-width="0.08">(Miller unit/10<tspan font-size="4.62" dy="-2.52">8</tspan><tspan dy="2.52">&#160;CFU)</tspan></text>
<text x="0" y="0" transform="translate(368.20 220.90) rotate(-90)" font-size="5.7" text-anchor="middle" style="letter-spacing:0.120px;" fill="#000">Absorbance</text>
</svg></body></html>
